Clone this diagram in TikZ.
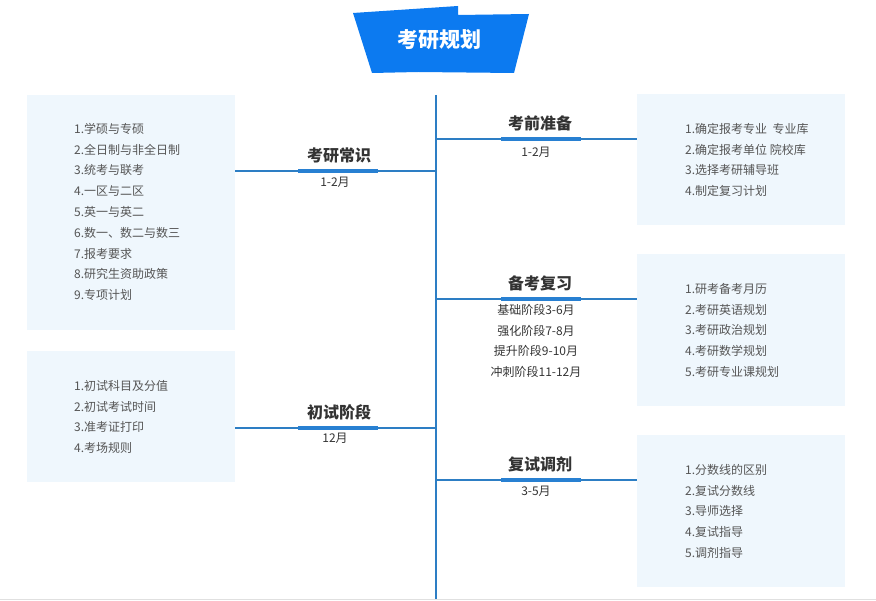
\documentclass[tikz,border=0pt]{standalone}
\usepackage{fontspec}
\setmainfont{Noto Sans CJK SC}
\usepackage{tikz}

\definecolor{titleblue}{RGB}{12,122,240}
\definecolor{lineblue}{RGB}{45,126,196}
\definecolor{barblue}{RGB}{40,128,210}
\definecolor{boxfill}{RGB}{239,247,253}
\definecolor{itemgray}{RGB}{85,85,85}
\definecolor{headgray}{RGB}{51,51,51}

\tikzset{
  box/.style={shape=rectangle,fill=boxfill,anchor=north west,inner sep=0pt},
  items/.style={anchor=north west,align=left,inner sep=0pt,text=itemgray,
    font=\fontsize{12}{20.8}\selectfont},
  bar/.style={shape=rectangle,fill=barblue,minimum width=80pt,minimum height=3.5pt,inner sep=0pt},
  head/.style={font=\fontsize{16}{18}\selectfont\bfseries,text=headgray,inner sep=0pt},
  sub/.style={font=\fontsize{12}{20.8}\selectfont,text=headgray,inner sep=0pt,align=center},
  link/.style={draw=lineblue,line width=1.1pt}
}

\begin{document}
\begin{tikzpicture}[x=1pt,y=-1pt]

\useasboundingbox (0,0) rectangle (876,601);
\draw[black!12,line width=1pt] (0,599.5) -- (876,599.5);

% title
\fill[titleblue] (353,13) -- (458,6) -- (458,15) -- (529,14) -- (514,73) -- (418,72) -- (372,73) -- cycle;
\node[font=\fontsize{21}{24}\selectfont\bfseries,text=white] (T) at (439,40) {考研规划};

% spine
\coordinate (S1) at (435.5,95);
\coordinate (S2) at (435.5,599);
\draw[link,line width=2pt] (S1) -- (S2);

% left: 考研常识
\node[box,minimum width=208pt,minimum height=235pt] (B1) at (27,95) {};
\node[items] (L1) at (74,123) {1.学硕与专硕\\2.全日制与非全日制\\3.统考与联考\\4.一区与二区\\5.英一与英二\\6.数一、数二与数三\\7.报考要求\\8.研究生资助政策\\9.专项计划};
\node[bar] (K1) at (338,171) {};
\draw[link] (B1.east |- K1) -- (S1 |- K1);
\node[bar] at (K1) {};
\node[head] (H1) at (339,155) {考研常识};
\node[sub] (D1) at (335,182) {1-2月};

% left: 初试阶段
\node[box,minimum width=208pt,minimum height=131pt] (B2) at (27,351) {};
\node[items] (L2) at (74,380) {1.初试科目及分值\\2.初试考试时间\\3.准考证打印\\4.考场规则};
\node[bar] (K2) at (338,428) {};
\draw[link] (B2.east |- K2) -- (S1 |- K2);
\node[bar] at (K2) {};
\node[head] (H2) at (339,412) {初试阶段};
\node[sub] (D2) at (335,438) {12月};

% right: 考前准备
\node[box,minimum width=208pt,minimum height=131pt] (B3) at (637,94) {};
\node[items] (L3) at (685,123) {1.确定报考专业\ \ 专业库\\2.确定报考单位\ 院校库\\3.选择考研辅导班\\4.制定复习计划};
\node[bar] (K3) at (541,139) {};
\draw[link] (S1 |- K3) -- (B3.west |- K3);
\node[bar] at (K3) {};
\node[head] (H3) at (540,123) {考前准备};
\node[sub] (D3) at (536,152) {1-2月};

% right: 备考复习
\node[box,minimum width=208pt,minimum height=152pt] (B4) at (637,254) {};
\node[items] (L4) at (685,283) {1.研考备考月历\\2.考研英语规划\\3.考研政治规划\\4.考研数学规划\\5.考研专业课规划};
\node[bar] (K4) at (541,299) {};
\draw[link] (S1 |- K4) -- (B4.west |- K4);
\node[bar] at (K4) {};
\node[head] (H4) at (540,283) {备考复习};
\node[sub,anchor=north] (D4) at (536,304) {基础阶段3-6月\\强化阶段7-8月\\提升阶段9-10月\\冲刺阶段11-12月};

% right: 复试调剂
\node[box,minimum width=208pt,minimum height=152pt] (B5) at (637,435) {};
\node[items] (L5) at (685,464) {1.分数线的区别\\2.复试分数线\\3.导师选择\\4.复试指导\\5.调剂指导};
\node[bar] (K5) at (541,480) {};
\draw[link] (S1 |- K5) -- (B5.west |- K5);
\node[bar] at (K5) {};
\node[head] (H5) at (540,464) {复试调剂};
\node[sub] (D5) at (536,491) {3-5月};

\end{tikzpicture}
\end{document}
